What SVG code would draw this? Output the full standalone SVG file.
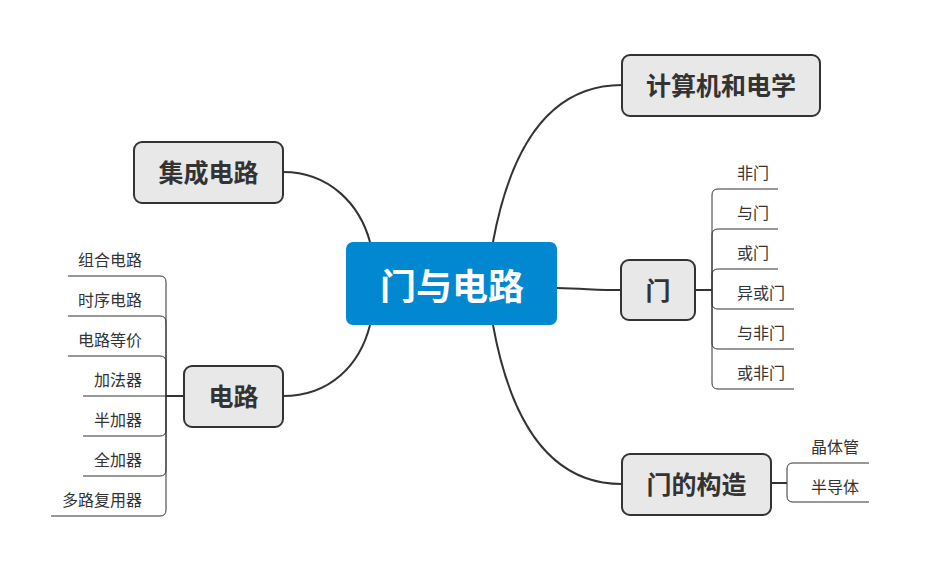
<svg xmlns="http://www.w3.org/2000/svg" width="932" height="567" viewBox="0 0 932 567">
<style>
.node rect{fill:#e8e8e8;stroke:#333;stroke-width:2}
.node text{font-family:"Noto Sans CJK SC","Noto Sans",sans-serif;font-weight:bold;font-size:25px;fill:#333;text-anchor:middle;dominant-baseline:central}
.main{fill:none;stroke:#333;stroke-width:2}
.sub{fill:none;stroke:#333;stroke-width:1}
.leaf{font-family:"Noto Sans CJK SC","Noto Sans",sans-serif;font-size:16px;fill:#333;dominant-baseline:central}
</style>
<rect width="932" height="567" fill="#fff"/>
<g id="connectors">
<path class="main" d="M493,242 Q522,85 622,85"/>
<path class="main" d="M283,172 C330,172 360,205 370,242"/>
<path class="main" d="M370,325 C360,365 330,396 283,396"/>
<path class="main" d="M557,288 C590,289 600,290 621,290"/>
<path class="main" d="M493,325 Q522,484 622,484"/>
<path class="main" d="M184,396 H166"/>
<path class="main" d="M695,290 H712"/>
<path class="main" d="M771,483 H787"/>
<path class="sub" d="M166,396 V282 Q166,276 160,276 H68"/>
<path class="sub" d="M166,396 V322 Q166,316 160,316 H68"/>
<path class="sub" d="M166,396 V362 Q166,356 160,356 H68"/>
<path class="sub" d="M166,396 H83"/>
<path class="sub" d="M166,396 V430 Q166,436 160,436 H83"/>
<path class="sub" d="M166,396 V470 Q166,476 160,476 H83"/>
<path class="sub" d="M166,396 V510 Q166,516 160,516 H51"/>
<path class="sub" d="M712,289 V195 Q712,189 718,189 H778"/>
<path class="sub" d="M712,289 V235 Q712,229 718,229 H778"/>
<path class="sub" d="M712,289 V275 Q712,269 718,269 H778"/>
<path class="sub" d="M712,289 V303 Q712,309 718,309 H794"/>
<path class="sub" d="M712,289 V343 Q712,349 718,349 H794"/>
<path class="sub" d="M712,289 V383 Q712,389 718,389 H794"/>
<path class="sub" d="M787,483 V469 Q787,463 793,463 H869"/>
<path class="sub" d="M787,483 V496 Q787,502 793,502 H869"/>
</g>
<g id="center">
<rect x="346" y="242" width="211" height="83" rx="7" fill="#0288d1"/>
<text x="452" y="284" font-family="Noto Sans CJK SC,sans-serif" font-weight="bold" font-size="36" fill="#fff" text-anchor="middle" dominant-baseline="central">门与电路</text>
</g>
<g id="n-jisuanji" class="node"><rect x="622" y="55" width="198" height="61" rx="8"/><text x="721" y="84">计算机和电学</text></g>
<g id="n-jicheng" class="node"><rect x="134" y="142" width="149" height="61" rx="8"/><text x="208.5" y="171">集成电路</text></g>
<g id="n-dianlu" class="node"><rect x="184" y="366" width="99" height="61" rx="8"/><text x="233.5" y="395">电路</text></g>
<g id="n-men" class="node"><rect x="621" y="260" width="74" height="60" rx="8"/><text x="658" y="289">门</text></g>
<g id="n-gouzao" class="node"><rect x="622" y="454" width="149" height="61" rx="8"/><text x="696.5" y="483">门的构造</text></g>
<g id="leaves-dianlu" text-anchor="end">
<text class="leaf" x="142" y="259">组合电路</text>
<text class="leaf" x="142" y="299">时序电路</text>
<text class="leaf" x="142" y="339">电路等价</text>
<text class="leaf" x="142" y="379">加法器</text>
<text class="leaf" x="142" y="419">半加器</text>
<text class="leaf" x="142" y="459">全加器</text>
<text class="leaf" x="142" y="499">多路复用器</text>
</g>
<g id="leaves-men">
<text class="leaf" x="737" y="172">非门</text>
<text class="leaf" x="737" y="212">与门</text>
<text class="leaf" x="737" y="252">或门</text>
<text class="leaf" x="737" y="292">异或门</text>
<text class="leaf" x="737" y="332">与非门</text>
<text class="leaf" x="737" y="372">或非门</text>
</g>
<g id="leaves-gouzao">
<text class="leaf" x="811" y="446">晶体管</text>
<text class="leaf" x="811" y="486">半导体</text>
</g>
</svg>
